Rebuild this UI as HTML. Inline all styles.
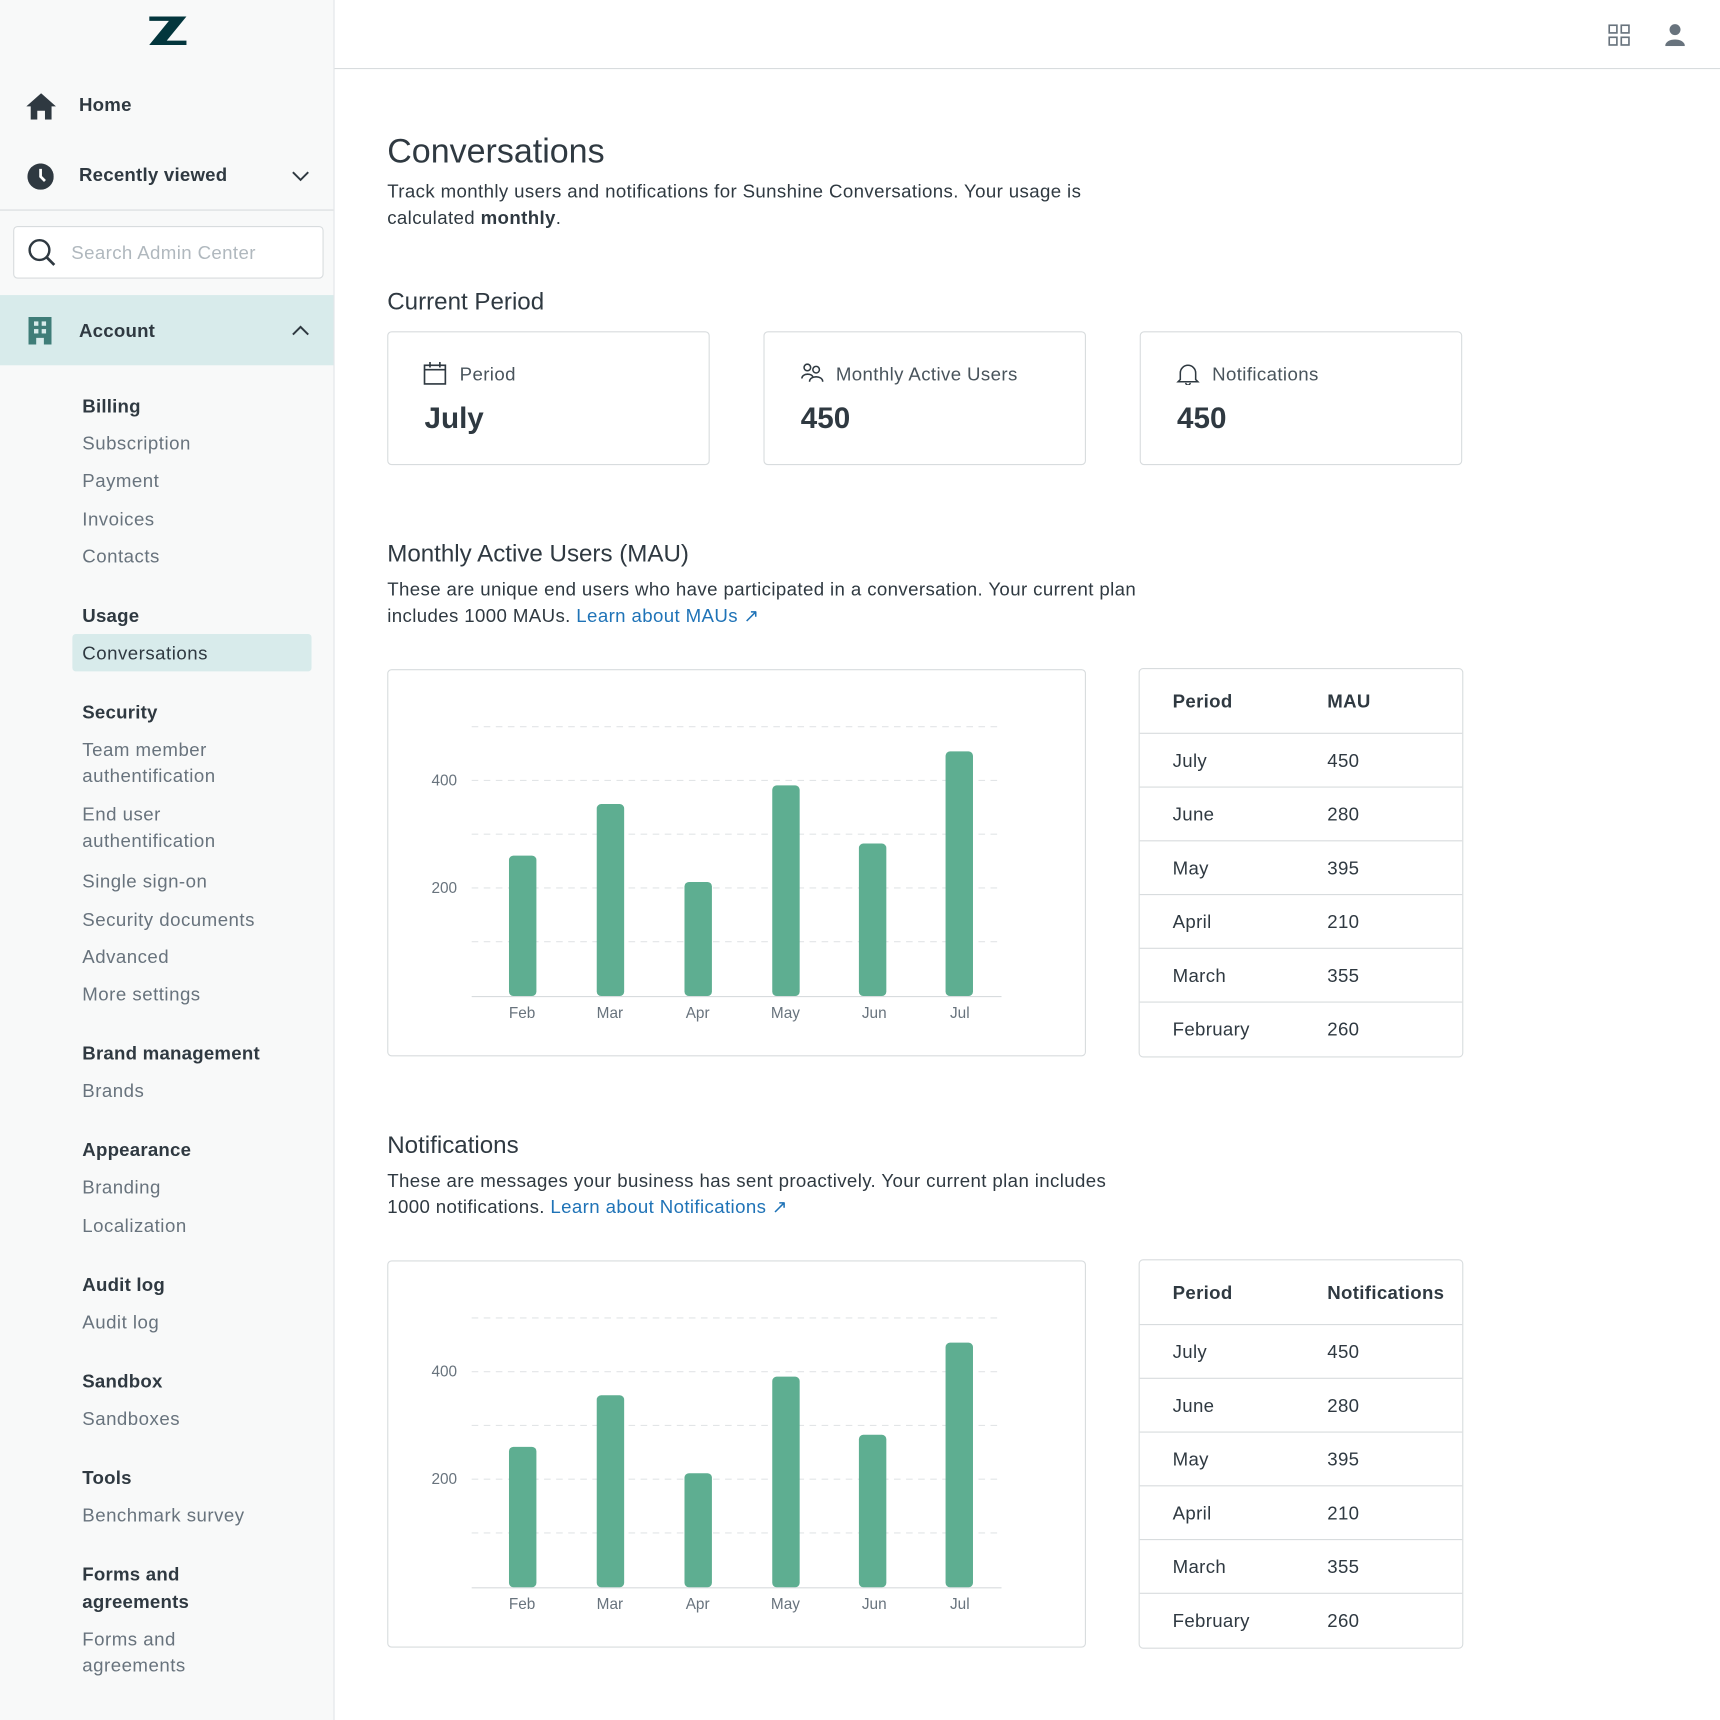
<!DOCTYPE html>
<html><head><meta charset="utf-8"><style>
*{margin:0;padding:0;box-sizing:border-box}
html,body{width:1720px;height:1720px;overflow:hidden;background:#fff}
#w{position:absolute;left:0;top:0;width:1568px;height:1568px;transform:scale(1.096939);transform-origin:0 0;font-family:"Liberation Sans",sans-serif;color:#2f3941}
.a{position:absolute;white-space:nowrap}
#sb{position:absolute;left:0;top:0;width:305px;height:1568px;background:#f8f9f9;border-right:1px solid #e2e5e7}
#sb .a{margin-top:1px}
.nav{font-size:17px;font-weight:bold;color:#2f3941;letter-spacing:0.2px}
.h{font-size:17px;font-weight:bold;color:#2f3941;letter-spacing:0.2px}
.s{font-size:17px;color:#68737d;letter-spacing:0.45px}
.card{position:absolute;border:1px solid #d8dcde;border-radius:4px;background:#fff}
.t{font-size:17px;color:#2f3941;letter-spacing:0.35px}
.lnk{color:#1f73b7}
</style></head><body><div id="w">
<div id="sb">
<svg class="a" style="left:136px;top:14px" width="34" height="26" viewBox="0 0 34 26"><path d="M0 0H34L16 22H34V26H0L18 4H0Z" fill="#03363d"/></svg>
<svg class="a" style="left:24px;top:84px" width="27" height="24" viewBox="0 0 27 24"><path d="M13.5 0L27 12H23V24H17V16H10V24H4V12H0Z" fill="#2f3941"/></svg>
<div class="a nav" style="left:72px;top:85px">Home</div>
<svg class="a" style="left:25px;top:148px" width="24" height="24"><circle cx="12" cy="12" r="12" fill="#2f3941"/><path d="M12 5V12L16 16" stroke="#fff" stroke-width="2.5" fill="none"/></svg>
<div class="a nav" style="left:72px;top:149px">Recently viewed</div>
<svg class="a" style="left:266px;top:155px" width="16" height="10"><path d="M1 1L8 8L15 1" stroke="#2f3941" stroke-width="1.8" fill="none"/></svg>
<div class="a" style="left:0;top:190px;width:304px;height:1px;background:#d8dcde"></div>
<div class="a" style="left:12px;top:205px;width:283px;height:48px;background:#fff;border:1px solid #d8dcde;border-radius:4px"></div>
<svg class="a" style="left:25px;top:216px" width="26" height="26"><circle cx="11" cy="11" r="9" stroke="#2f3941" stroke-width="2.2" fill="none"/><path d="M17.5 17.5L24.5 24.5" stroke="#2f3941" stroke-width="2.5"/></svg>
<div class="a" style="left:65px;top:220px;font-size:17px;color:#b0b8be;letter-spacing:0.35px">Search Admin Center</div>
<div class="a" style="left:0;top:268px;width:304px;height:64px;background:#d8ebeb"></div>
<svg class="a" style="left:26px;top:288px" width="21" height="25"><path d="M0 0H21V25H14V19H7V25H0Z" fill="#3f7d78"/><rect x="5" y="4" width="4" height="4" fill="#d8ebeb"/><rect x="12" y="4" width="4" height="4" fill="#d8ebeb"/><rect x="5" y="11" width="4" height="4" fill="#d8ebeb"/><rect x="12" y="11" width="4" height="4" fill="#d8ebeb"/></svg>
<div class="a nav" style="left:72px;top:291px">Account</div>
<svg class="a" style="left:266px;top:295px" width="16" height="10"><path d="M1 9L8 2L15 9" stroke="#2f3941" stroke-width="1.8" fill="none"/></svg>
<div class="a h" style="left:75px;top:360px">Billing</div>
<div class="a s" style="left:75px;top:394px">Subscription</div>
<div class="a s" style="left:75px;top:428px">Payment</div>
<div class="a s" style="left:75px;top:463px">Invoices</div>
<div class="a s" style="left:75px;top:497px">Contacts</div>
<div class="a h" style="left:75px;top:551px">Usage</div>
<div class="a" style="left:66px;top:577px;width:218px;height:34px;background:#d8ebeb;border-radius:3px"></div>
<div class="a s" style="left:75px;top:585px;color:#2f3941">Conversations</div>
<div class="a h" style="left:75px;top:639px">Security</div>
<div class="a s" style="left:75px;top:673px">Team member</div>
<div class="a s" style="left:75px;top:697px">authentification</div>
<div class="a s" style="left:75px;top:732px">End user</div>
<div class="a s" style="left:75px;top:756px">authentification</div>
<div class="a s" style="left:75px;top:793px">Single sign-on</div>
<div class="a s" style="left:75px;top:828px">Security documents</div>
<div class="a s" style="left:75px;top:862px">Advanced</div>
<div class="a s" style="left:75px;top:896px">More settings</div>
<div class="a h" style="left:75px;top:950px">Brand management</div>
<div class="a s" style="left:75px;top:984px">Brands</div>
<div class="a h" style="left:75px;top:1038px">Appearance</div>
<div class="a s" style="left:75px;top:1072px">Branding</div>
<div class="a s" style="left:75px;top:1107px">Localization</div>
<div class="a h" style="left:75px;top:1161px">Audit log</div>
<div class="a s" style="left:75px;top:1195px">Audit log</div>
<div class="a h" style="left:75px;top:1249px">Sandbox</div>
<div class="a s" style="left:75px;top:1283px">Sandboxes</div>
<div class="a h" style="left:75px;top:1337px">Tools</div>
<div class="a s" style="left:75px;top:1371px">Benchmark survey</div>
<div class="a h" style="left:75px;top:1425px">Forms and</div>
<div class="a h" style="left:75px;top:1450px">agreements</div>
<div class="a s" style="left:75px;top:1484px">Forms and</div>
<div class="a s" style="left:75px;top:1508px">agreements</div>
</div>
<div class="a" style="left:305px;top:62px;width:1263px;height:1px;background:#d8dcde"></div>
<svg class="a" style="left:1466px;top:22px" width="20" height="20"><g fill="none" stroke="#68737d" stroke-width="1.5"><rect x="1" y="1" width="7" height="7"/><rect x="12" y="1" width="7" height="7"/><rect x="1" y="12" width="7" height="7"/><rect x="12" y="12" width="7" height="7"/></g></svg>
<svg class="a" style="left:1518px;top:21px" width="18" height="21"><circle cx="9" cy="6" r="5" fill="#68737d"/><path d="M0 21C0 13 18 13 18 21Z" fill="#68737d"/></svg>

<div class="a" style="left:353px;top:120px;font-size:31px">Conversations</div>
<div class="a t" style="left:353px;top:165px">Track monthly users and notifications for Sunshine Conversations. Your usage is</div>
<div class="a t" style="left:353px;top:189px">calculated <b>monthly</b>.</div>
<div class="a" style="left:353px;top:262px;font-size:22px">Current Period</div>

<div class="card" style="left:353px;top:302px;width:294px;height:122px"></div>
<div class="card" style="left:696px;top:302px;width:294px;height:122px"></div>
<div class="card" style="left:1039px;top:302px;width:294px;height:122px"></div>
<svg class="a" style="left:386px;top:330px" width="22" height="22"><rect x="1" y="3" width="19" height="17" fill="none" stroke="#2f3941" stroke-width="1.5"/><path d="M1 7H20M6 0V5M15 0V5" stroke="#2f3941" stroke-width="1.5"/></svg>
<div class="a t" style="left:419px;top:332px;color:#49545c">Period</div>
<div class="a" style="left:387px;top:366px;font-size:27px;font-weight:bold">July</div>
<svg class="a" style="left:730px;top:331px" width="22" height="18"><g fill="none" stroke="#2f3941" stroke-width="1.4"><circle cx="6" cy="4" r="3"/><circle cx="14" cy="6" r="3"/><path d="M1 14C1 9 11 9 11 13M8 17C8 11 20 11 20 17"/></g></svg>
<div class="a t" style="left:762px;top:332px;color:#49545c">Monthly Active Users</div>
<div class="a" style="left:730px;top:366px;font-size:27px;font-weight:bold">450</div>
<svg class="a" style="left:1072px;top:331px" width="22" height="20"><path d="M4 15V9A7 7 0 0 1 18 9V15L20 17H2Z M9 18A2 2 0 0 0 13 18" fill="none" stroke="#2f3941" stroke-width="1.4"/></svg>
<div class="a t" style="left:1105px;top:332px;color:#49545c">Notifications</div>
<div class="a" style="left:1073px;top:366px;font-size:27px;font-weight:bold">450</div>

<div class="a" style="left:353px;top:492px;font-size:22px">Monthly Active Users (MAU)</div>
<div class="a t" style="left:353px;top:528px">These are unique end users who have participated in a conversation. Your current plan</div>
<div class="a t" style="left:353px;top:552px">includes 1000 MAUs. <span class="lnk">Learn about MAUs ↗</span></div>

<div class="a" style="left:353px;top:1031px;font-size:22px">Notifications</div>
<div class="a t" style="left:353px;top:1067px">These are messages your business has sent proactively. Your current plan includes</div>
<div class="a t" style="left:353px;top:1091px">1000 notifications. <span class="lnk">Learn about Notifications ↗</span></div>

<div class="card" style="left:353px;top:610px;width:637px;height:353px"></div>
<div class="card" style="left:353px;top:1149px;width:637px;height:353px"></div>
<svg class="a" style="left:0;top:0" width="1568" height="1568" font-family="Liberation Sans, sans-serif" font-size="14" fill="#68737d">
<g id="c1">
<g stroke="#e2e5e7" stroke-dasharray="6,5" stroke-width="1"><line x1="430" x2="913" y1="662.5" y2="662.5"/><line x1="430" x2="913" y1="711.5" y2="711.5"/><line x1="430" x2="913" y1="760.5" y2="760.5"/><line x1="430" x2="913" y1="809.5" y2="809.5"/><line x1="430" x2="913" y1="858.5" y2="858.5"/></g>
<line x1="430" x2="913" y1="908.5" y2="908.5" stroke="#d8dcde"/>
<text x="405" y="716" text-anchor="middle">400</text><text x="405" y="814" text-anchor="middle">200</text>
<g fill="#5eae91"><rect x="464" y="780" width="25" height="128" rx="4"/><rect x="544" y="733" width="25" height="175" rx="4"/><rect x="624" y="804" width="25" height="104" rx="4"/><rect x="704" y="716" width="25" height="192" rx="4"/><rect x="783" y="769" width="25" height="139" rx="4"/><rect x="862" y="685" width="25" height="223" rx="4"/></g>
<g text-anchor="middle"><text x="476" y="928">Feb</text><text x="556" y="928">Mar</text><text x="636" y="928">Apr</text><text x="716" y="928">May</text><text x="797" y="928">Jun</text><text x="875" y="928">Jul</text></g>
</g>
<use href="#c1" y="539"/>
</svg>

<div class="card" style="left:1038px;top:609px;width:296px;height:355px"></div>
<div class="card" style="left:1038px;top:1148px;width:296px;height:355px"></div>
<svg class="a" style="left:0;top:0" width="1568" height="1568" font-family="Liberation Sans, sans-serif" font-size="17" fill="#2f3941" letter-spacing="0.3">
<g id="t1">
<text x="1069" y="645" font-weight="bold">Period</text>
<g stroke="#d8dcde"><line x1="1039" x2="1333" y1="668.5" y2="668.5"/><line x1="1039" x2="1333" y1="717.5" y2="717.5"/><line x1="1039" x2="1333" y1="766.5" y2="766.5"/><line x1="1039" x2="1333" y1="815.5" y2="815.5"/><line x1="1039" x2="1333" y1="864.5" y2="864.5"/><line x1="1039" x2="1333" y1="913.5" y2="913.5"/></g>
<text x="1069" y="699">July</text><text x="1210" y="699">450</text>
<text x="1069" y="748">June</text><text x="1210" y="748">280</text>
<text x="1069" y="797">May</text><text x="1210" y="797">395</text>
<text x="1069" y="846">April</text><text x="1210" y="846">210</text>
<text x="1069" y="895">March</text><text x="1210" y="895">355</text>
<text x="1069" y="944">February</text><text x="1210" y="944">260</text>
</g>
<text x="1210" y="645" font-weight="bold">MAU</text>
<use href="#t1" y="539"/>
<text x="1210" y="1184" font-weight="bold">Notifications</text>
</svg>
</div></body></html>
